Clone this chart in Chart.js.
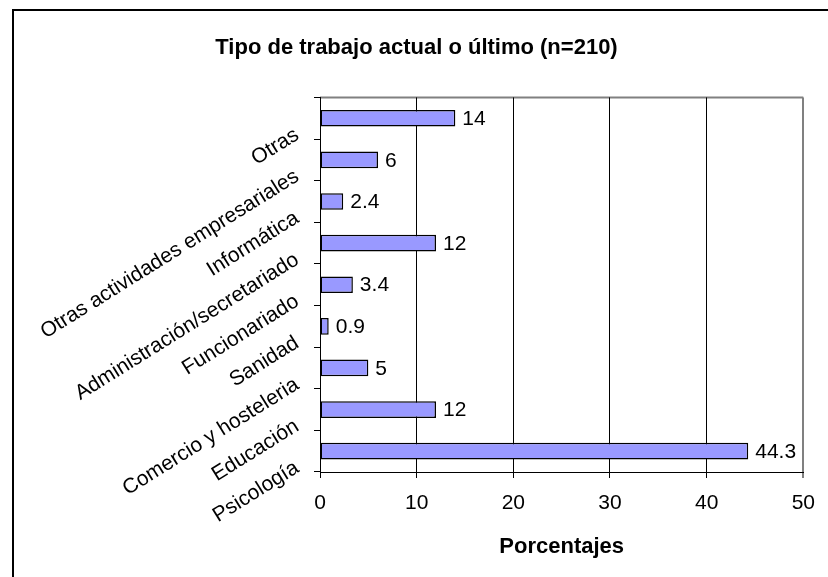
<!DOCTYPE html>
<html>
<head>
<meta charset="utf-8">
<title>Tipo de trabajo actual o último</title>
<script src="https://cdn.jsdelivr.net/npm/chart.js@4.4.0/dist/chart.umd.min.js"></script>
<style>
  html, body { margin: 0; padding: 0; background: #fff; }
  canvas { display: block; }
</style>
</head>
<body>
<canvas id="trabajoChart" width="828" height="577"></canvas>
<script>
// Datos del gráfico (de arriba a abajo, como en el original)
const categorias = [
  "Otras",
  "Otras actividades empresariales",
  "Informática",
  "Administración/secretariado",
  "Funcionariado",
  "Sanidad",
  "Comercio y hosteleria",
  "Educación",
  "Psicología"
];
const porcentajes = [14, 6, 2.4, 12, 3.4, 0.9, 5, 12, 44.3];
const ticksX = [0, 10, 20, 30, 40, 50];

const FUENTE = "'Liberation Sans', Arial, sans-serif";

// Marco exterior y borde gris del área de trazado
const marcoPlugin = {
  id: "marco",
  beforeDraw(chart) {
    const ctx = chart.ctx;
    const a = chart.chartArea;
    ctx.save();
    ctx.fillStyle = "#fff";
    ctx.fillRect(0, 0, chart.width, chart.height);
    ctx.strokeStyle = "#000";
    ctx.lineWidth = 2;
    ctx.beginPath();
    ctx.moveTo(13, chart.height);
    ctx.lineTo(13, 10);
    ctx.lineTo(chart.width, 10);
    ctx.stroke();
    ctx.strokeStyle = "#808080";
    ctx.lineWidth = 2;
    ctx.beginPath();
    ctx.moveTo(a.left, a.top);
    ctx.lineTo(a.right, a.top);
    ctx.stroke();
    ctx.restore();
  }
};

// Etiquetas de valor a la derecha de cada barra
const etiquetasPlugin = {
  id: "etiquetas",
  afterDatasetsDraw(chart) {
    const ctx = chart.ctx;
    const meta = chart.getDatasetMeta(0);
    ctx.save();
    ctx.font = "21px " + FUENTE;
    ctx.fillStyle = "#000";
    ctx.textAlign = "left";
    ctx.textBaseline = "middle";
    meta.data.forEach((bar, i) => {
      ctx.fillText(String(porcentajes[i]), bar.x + 7, bar.y + 1);
    });
    ctx.restore();
  }
};

new Chart(document.getElementById("trabajoChart"), {
  type: "bar",
  data: {
    labels: categorias,
    datasets: [{
      data: porcentajes,
      backgroundColor: "#9999ff",
      borderColor: "#000",
      borderWidth: 1.5,
      borderSkipped: false,
      categoryPercentage: 1,
      barPercentage: 0.4
    }]
  },
  options: {
    responsive: false,
    animation: false,
    indexAxis: "y",
    layout: { padding: { left: 25, right: 20, top: 0, bottom: 0 } },
    plugins: {
      legend: { display: false },
      tooltip: { enabled: false },
      title: {
        display: true,
        text: "Tipo de trabajo actual o último (n=210)",
        color: "#000",
        font: { family: FUENTE, size: 22, weight: "bold" },
        padding: { top: 35, bottom: 36 }
      }
    },
    scales: {
      x: {
        min: 0,
        max: 50,
        afterBuildTicks: (scale) => {
          scale.ticks = ticksX.map((v) => ({ value: v }));
        },
        ticks: {
          color: "#000",
          font: { family: FUENTE, size: 21 },
          padding: 13
        },
        grid: {
          color: (c) => (c.tick && c.tick.value === 50 ? "#808080" : "#000"),
          lineWidth: (c) => (c.tick && c.tick.value === 50 ? 2 : 1),
          tickLength: 6
        },
        border: { color: "#000", width: 1 },
        title: {
          display: true,
          text: "Porcentajes",
          color: "#000",
          font: { family: FUENTE, size: 22, weight: "bold" },
          padding: { top: 0, bottom: 17 }
        },
        afterFit: (scale) => {
          scale.height = 105;
        }
      },
      y: {
        ticks: {
          autoSkip: false,
          minRotation: 32,
          maxRotation: 32,
          color: "#000",
          font: { family: FUENTE, size: 21 },
          padding: 17,
          labelOffset: 15
        },
        grid: {
          drawOnChartArea: false,
          offset: true,
          color: "#000",
          tickLength: 6
        },
        border: { color: "#000", width: 1 },
        afterFit: (scale) => {
          scale.width = 295;
        }
      }
    }
  },
  plugins: [marcoPlugin, etiquetasPlugin]
});
</script>
</body>
</html>
